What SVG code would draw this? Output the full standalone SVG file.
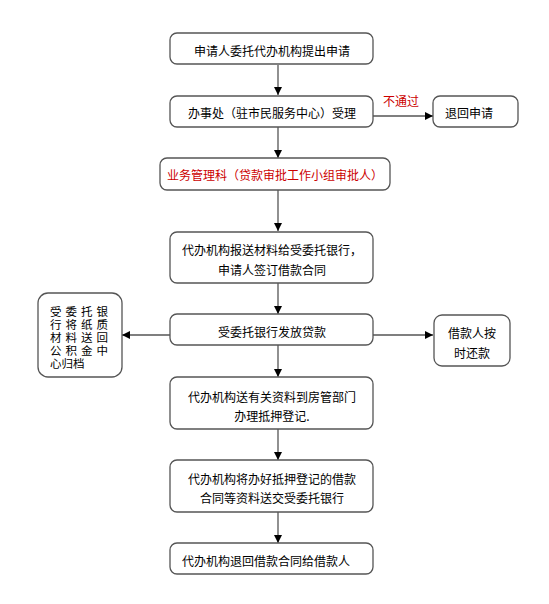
<svg xmlns="http://www.w3.org/2000/svg" width="549" height="604" viewBox="0 0 549 604">
<defs>
<marker id="ah" markerUnits="userSpaceOnUse" markerWidth="9" markerHeight="9" refX="8" refY="4" orient="auto">
<path d="M0,0 L8,4 L0,8 z" fill="#000"/>
</marker>
<style>
.box{fill:#fff;stroke:#555;stroke-width:1.3}
.t{font-family:"Noto Sans CJK SC","Noto Sans",sans-serif;font-size:12px;fill:#000}
.s{font-size:11.5px}
.c{text-anchor:middle}
.r{fill:#cc0000}
.ln{stroke:#555;stroke-width:1.3;fill:none;marker-end:url(#ah)}
</style>
</defs>
<rect width="549" height="604" fill="#fff"/>
<g id="connectors">
<line class="ln" x1="278" y1="65" x2="278" y2="95"/>
<line class="ln" x1="278" y1="127" x2="278" y2="158"/>
<line class="ln" x1="278" y1="190" x2="278" y2="231"/>
<line class="ln" x1="278" y1="283" x2="278" y2="314"/>
<line class="ln" x1="278" y1="345" x2="278" y2="377"/>
<line class="ln" x1="278" y1="429" x2="278" y2="460"/>
<line class="ln" x1="278" y1="512" x2="278" y2="543"/>
<line class="ln" x1="373" y1="116" x2="433" y2="116"/>
<line class="ln" x1="170" y1="335" x2="122" y2="335"/>
<line class="ln" x1="373" y1="335" x2="433" y2="335"/>
<text class="t r" x="383" y="106">不通过</text>
</g>
<g id="n1">
<rect class="box" x="170" y="33" width="203" height="31" rx="7"/>
<text class="t c" x="272" y="55.5">申请人委托代办机构提出申请</text>
</g>
<g id="n2">
<rect class="box" x="170" y="96" width="203" height="31" rx="7"/>
<text class="t c" x="272" y="117.5">办事处（驻市民服务中心）受理</text>
</g>
<g id="n3">
<rect class="box" x="433" y="96" width="85" height="31" rx="7"/>
<text class="t" x="445" y="117.5">退回申请</text>
</g>
<g id="n4">
<rect class="box" x="160" y="158" width="230" height="32" rx="7"/>
<text class="t c r" x="275" y="179.5">业务管理科（贷款审批工作小组审批人）</text>
</g>
<g id="n5">
<rect class="box" x="170" y="232" width="203" height="51" rx="7"/>
<text class="t c" x="272" y="254.5">代办机构报送材料给受委托银行，</text>
<text class="t c" x="272" y="274.5">申请人签订借款合同</text>
</g>
<g id="n6">
<rect class="box" x="170" y="314" width="203" height="31" rx="7"/>
<text class="t c" x="272" y="336.5">受委托银行发放贷款</text>
</g>
<g id="n7">
<rect class="box" x="38" y="293" width="84" height="84" rx="10"/>
<text class="t s"><tspan x="50" y="316" letter-spacing="4">受委托银</tspan><tspan x="50" y="329" letter-spacing="4">行将纸质</tspan><tspan x="50" y="342" letter-spacing="4">材料送回</tspan><tspan x="50" y="355" letter-spacing="4">公积金中</tspan><tspan x="50" y="368">心归档</tspan></text>
</g>
<g id="n8">
<rect class="box" x="434" y="315" width="76" height="51" rx="8"/>
<text class="t c" x="472" y="337.5">借款人按</text>
<text class="t c" x="472" y="357.5">时还款</text>
</g>
<g id="n9">
<rect class="box" x="170" y="377" width="203" height="52" rx="7"/>
<text class="t c" x="272" y="401.5">代办机构送有关资料到房管部门</text>
<text class="t c" x="272" y="420.5">办理抵押登记.</text>
</g>
<g id="n10">
<rect class="box" x="170" y="460" width="203" height="52" rx="7"/>
<text class="t c" x="272" y="483.5">代办机构将办好抵押登记的借款</text>
<text class="t c" x="272" y="502.5">合同等资料送交受委托银行</text>
</g>
<g id="n11">
<rect class="box" x="170" y="543" width="203" height="31" rx="7"/>
<text class="t" x="182" y="565.5">代办机构退回借款合同给借款人</text>
</g>
</svg>
